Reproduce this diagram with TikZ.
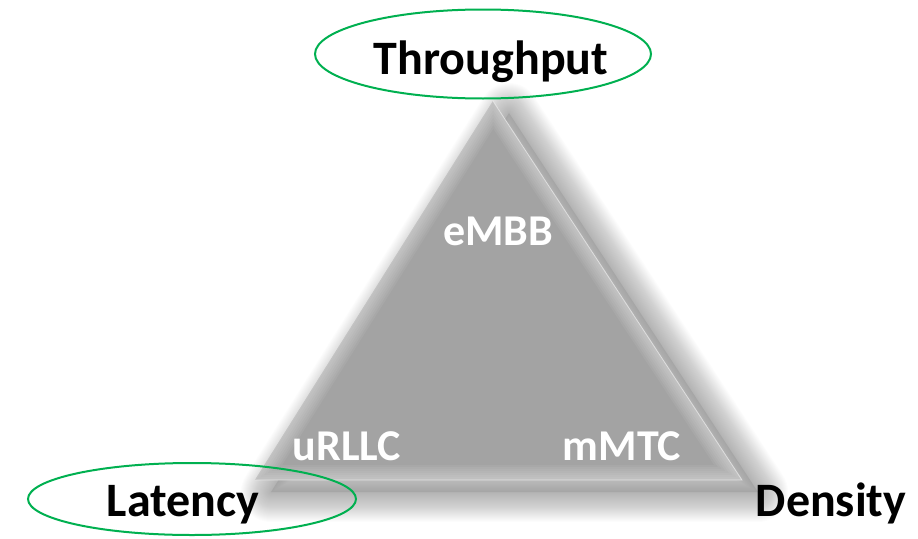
\documentclass[tikz,border=0pt]{standalone}
\usepackage{fontspec}
\setmainfont{Carlito}
\usetikzlibrary{shapes.geometric}
\definecolor{trigray}{RGB}{163,163,163}
\definecolor{ringgreen}{RGB}{0,176,80}
\begin{document}
\begin{tikzpicture}[x=1pt, y=-1pt,
    corner/.style={font=\fontsize{48}{58}\selectfont\bfseries, text=black, anchor=base},
    usecase/.style={font=\fontsize{44}{52}\selectfont\bfseries, text=white, anchor=base},
    ring/.style={draw=ringgreen, line width=2pt, ellipse, inner sep=0pt}]
    \useasboundingbox (0,0) rectangle (918,538);

    \coordinate (T) at (493,101);
    \coordinate (L) at (255,480);
    \coordinate (R) at (742,480);

    \coordinate (Ts) at ([shift={(16,12)}]T);
    \coordinate (Ls) at ([shift={(16,12)}]L);
    \coordinate (Rs) at ([shift={(16,12)}]R);

    % soft shadow, built from widening strokes
    \foreach \w in {60,58,...,2}
        \draw[black, opacity=0.013, line width=\w pt, line join=round]
            (Ts)--(Ls)--(Rs)--cycle;
    \fill[black, opacity=0.08] (Ts)--(Ls)--(Rs)--cycle;

    % triangle with faded edges
    \fill[trigray] (T)--(L)--(R)--cycle;
    \begin{scope}
        \clip (T)--(L)--(R)--cycle;
        \foreach \w in {30,26,...,2}
            \draw[white, opacity=0.06, line width=\w pt] (T)--(L)--(R)--cycle;
    \end{scope}
    \draw[white, opacity=0.5, line width=0.8pt] (T)--(R)--(L);

    \node[ring, minimum width=336pt, minimum height=89pt] (thrring) at (483,54) {};
    \node[ring, minimum width=328pt, minimum height=72pt] (latring) at (192,499) {};

    \node[corner] (thr) at (491,74) {Throughput};
    \node[corner] (lat) at (183,516) {Latency};
    \node[corner] (den) at (831,516) {Density};

    \node[usecase] (embb) at (498,245) {eMBB};
    \node[usecase] (urllc) at (347,460) {uRLLC};
    \node[usecase] (mmtc) at (622,460) {mMTC};
\end{tikzpicture}
\end{document}
